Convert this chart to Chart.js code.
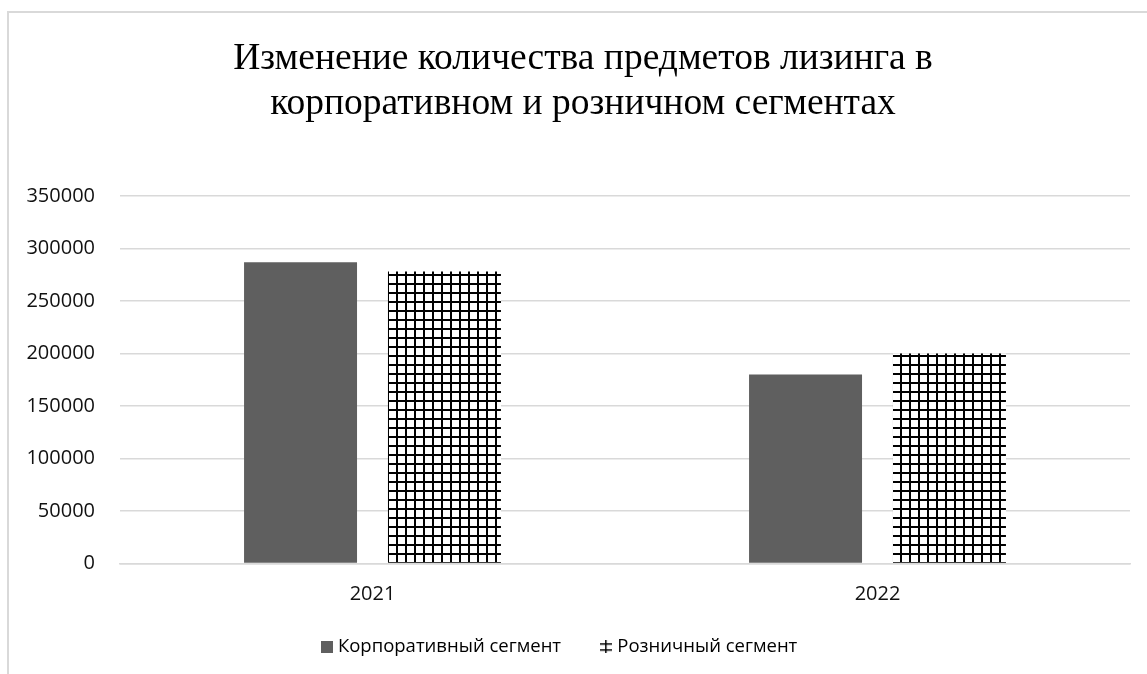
<!DOCTYPE html>
<html>
<head>
<meta charset="utf-8">
<script src="https://cdn.jsdelivr.net/npm/chart.js@4/dist/chart.umd.min.js"></script>
<style>
  html, body { margin: 0; padding: 0; background: #fff; overflow: hidden; width: 1147px; height: 674px; }
  #wrap { position: absolute; left: 7px; top: 11px; width: 1156px; height: 690px; border-left: 2px solid #d9d9d9; border-top: 2px solid #d9d9d9; box-sizing: border-box; }
  canvas { display: block; }
</style>
</head>
<body>
<div id="wrap"><canvas id="c"></canvas></div>
<script>
const categories = ['2021', '2022'];
const corporateValues = [287000, 180000];
const retailValues = [278000, 200000];
const seriesNames = ['Корпоративный сегмент', 'Розничный сегмент'];
const titleLines = ['Изменение количества предметов лизинга в', 'корпоративном и розничном сегментах'];

function makeGridPattern() {
  const t = document.createElement('canvas');
  t.width = 9; t.height = 9;
  const g = t.getContext('2d');
  g.fillStyle = '#ffffff'; g.fillRect(0, 0, 9, 9);
  g.fillStyle = '#000000';
  g.fillRect(0, 0, 9, 2);
  g.fillRect(0, 0, 2, 9);
  return document.getElementById('c').getContext('2d').createPattern(t, 'repeat');
}
function makeSquareIcon() {
  const t = document.createElement('canvas');
  t.width = 12; t.height = 12;
  const g = t.getContext('2d');
  g.fillStyle = '#5f5f5f'; g.fillRect(0, 0, 12, 12);
  return t;
}
function makeCrossIcon() {
  const t = document.createElement('canvas');
  t.width = 12; t.height = 13;
  const g = t.getContext('2d');
  g.fillStyle = '#000';
  g.fillRect(0, 3, 12, 1.5);
  g.fillRect(0, 9, 12, 1.5);
  g.fillRect(5, 0, 1.5, 13);
  return t;
}

const pattern = makeGridPattern();
const sqIcon = makeSquareIcon();
const crossIcon = makeCrossIcon();

const legendShift = {
  id: 'legendShift',
  afterUpdate(chart) {
    if (chart.legend) { chart.legend.left -= 22; chart.legend.right -= 22; }
  }
};

new Chart(document.getElementById('c'), {
  type: 'bar',
  data: {
    labels: categories,
    datasets: [
      { label: seriesNames[0], data: corporateValues, backgroundColor: '#5f5f5f', categoryPercentage: 0.57, barPercentage: 0.785 },
      { label: seriesNames[1], data: retailValues, backgroundColor: pattern, categoryPercentage: 0.57, barPercentage: 0.785 }
    ]
  },
  plugins: [legendShift],
  options: {
    responsive: true,
    maintainAspectRatio: false,
    animation: false,
    layout: { padding: { left: 0, right: 6, top: 0, bottom: 35 } },
    plugins: {
      title: {
        display: true,
        text: titleLines,
        color: '#000',
        font: { family: '"Liberation Serif", "Times New Roman", serif', size: 37.5, weight: 'normal', lineHeight: 1.2 },
        padding: { top: 24, bottom: 69 }
      },
      legend: {
        position: 'bottom',
        labels: {
          usePointStyle: true,
          color: '#111',
          font: { family: '"Open Sans", sans-serif', size: 18.5 },
          padding: 19,
          boxWidth: 4,
          generateLabels: (chart) => [
            { text: seriesNames[0] + '\u00a0\u00a0\u00a0\u00a0\u00a0', pointStyle: sqIcon, datasetIndex: 0, fillStyle: '#5f5f5f', strokeStyle: '#5f5f5f', lineWidth: 0 },
            { text: seriesNames[1], pointStyle: crossIcon, datasetIndex: 1, fillStyle: '#fff', strokeStyle: '#000', lineWidth: 0 }
          ]
        }
      },
      tooltip: { enabled: false }
    },
    scales: {
      x: {
        grid: { display: false, drawTicks: false },
        border: { display: true, color: '#d9d9d9', width: 1.5 },
        ticks: { color: '#111', font: { family: '"Open Sans", sans-serif', size: 20 }, padding: 19 },
        afterFit: (s) => { s.height = 55; }
      },
      y: {
        min: 0, max: 350000,
        ticks: { stepSize: 50000, color: '#111', font: { family: '"Open Sans", sans-serif', size: 20 }, padding: 25,
                 callback: (v) => String(v) },
        grid: { color: '#d9d9d9', lineWidth: 1.5, drawTicks: false },
        border: { display: false },
        afterFit: (s) => { s.width = 111; }
      },
      yRight: {
        position: 'right',
        display: true,
        ticks: { display: false },
        grid: { display: false, drawTicks: false },
        border: { display: false },
        afterFit: (s) => { s.width = 27; }
      }
    }
  }
});
</script>
</body>
</html>
